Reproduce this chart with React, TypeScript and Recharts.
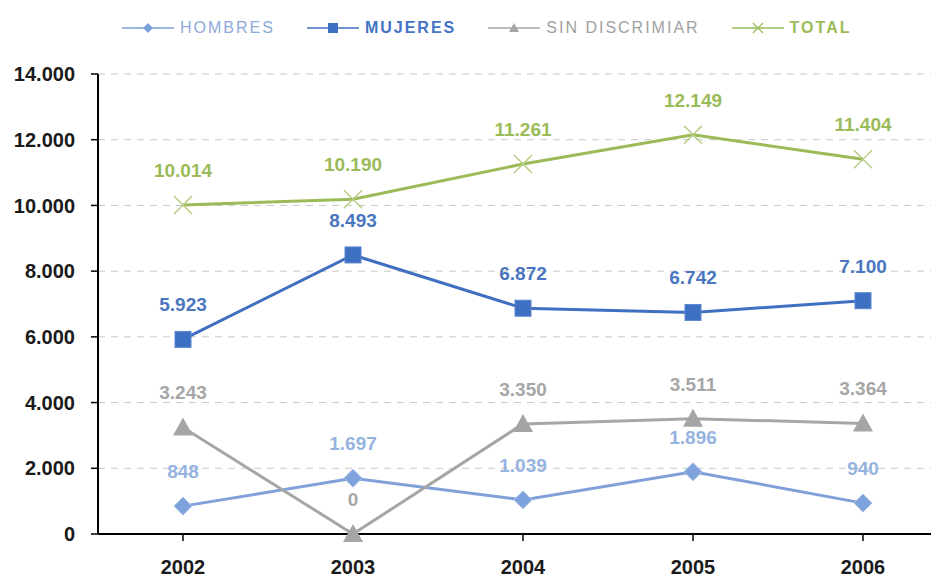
import React from 'react';
import {
    LineChart,
    Line,
    XAxis,
    YAxis,
    CartesianGrid,
    Legend,
} from 'recharts';

// Datos
const years = ['2002', '2003', '2004', '2005', '2006'];
const hombres = [848, 1697, 1039, 1896, 940];
const mujeres = [5923, 8493, 6872, 6742, 7100];
const sinDiscriminar = [3243, 0, 3350, 3511, 3364];
const total = [10014, 10190, 11261, 12149, 11404];
const yTicks = [0, 2000, 4000, 6000, 8000, 10000, 12000, 14000];

const data = years.map((year, i) => ({
    year,
    hombres: hombres[i],
    mujeres: mujeres[i],
    sin: sinDiscriminar[i],
    total: total[i],
}));

const FONT = '"Liberation Sans", Arial, sans-serif';

const C_HOMBRES = '#7fa0d8';
const C_MUJERES = '#3f6fc0';
const C_SIN = '#a6a6a6';
const C_TOTAL = '#9bbb59';

// 10014 -> "10.014"
const fmt = (v: number) => String(v).replace(/\B(?=(\d{3})+(?!\d))/g, '.');

// Marcadores
const Diamond = (props: any) => {
    const { cx, cy } = props;
    if (cx == null || cy == null) return null;
    const r = 9;
    return (
        <polygon
            points={`${cx},${cy - r} ${cx + r},${cy} ${cx},${cy + r} ${cx - r},${cy}`}
            fill="#7ea2dc"
            stroke="#a9c0e8"
            strokeWidth={1}
        />
    );
};

const Square = (props: any) => {
    const { cx, cy } = props;
    if (cx == null || cy == null) return null;
    const s = 8;
    return <rect x={cx - s} y={cy - s} width={s * 2} height={s * 2} fill="#3d6fc2" stroke="#5a86cf" strokeWidth={1} />;
};

const Triangle = (props: any) => {
    const { cx, cy } = props;
    if (cx == null || cy == null) return null;
    return (
        <polygon
            points={`${cx},${cy - 10} ${cx + 10},${cy + 8} ${cx - 10},${cy + 8}`}
            fill="#a5a5a5"
        />
    );
};

const Cross = (props: any) => {
    const { cx, cy } = props;
    if (cx == null || cy == null) return null;
    const r = 9;
    return (
        <g stroke="#b5cc80" strokeWidth={1.5}>
            <line x1={cx - r} y1={cy - r} x2={cx + r} y2={cy + r} />
            <line x1={cx - r} y1={cy + r} x2={cx + r} y2={cy - r} />
        </g>
    );
};

// Etiqueta encima del punto
const makeLabel = (color: string) => (props: any) => {
    const { x, y, value } = props;
    return (
        <text
            x={x}
            y={y - 33}
            textAnchor="middle"
            dominantBaseline="middle"
            fill={color}
            fontFamily={FONT}
            fontWeight="bold"
            fontSize={19}
        >
            {fmt(value)}
        </text>
    );
};

const legendItems = [
    { name: 'HOMBRES', color: C_HOMBRES, text: '#8eaadb', bold: false, icon: 'diamond' },
    { name: 'MUJERES', color: C_MUJERES, text: '#4472c4', bold: true, icon: 'square' },
    { name: 'SIN DISCRIMIAR', color: C_SIN, text: '#a0a0a0', bold: false, icon: 'triangle' },
    { name: 'TOTAL', color: C_TOTAL, text: '#9bbb59', bold: true, icon: 'cross' },
];

const LegendIcon = ({ icon, color }: { icon: string; color: string }) => (
    <svg width={52} height={14} style={{ marginRight: 6 }}>
        <line x1={0} y1={7} x2={52} y2={7} stroke={color} strokeWidth={1.5} />
        {icon === 'diamond' && <polygon points="26,2 31,7 26,12 21,7" fill="#7ea2dc" />}
        {icon === 'square' && <rect x={21} y={2} width={10} height={10} fill="#3d6fc2" />}
        {icon === 'triangle' && <polygon points="26,2 31,11 21,11" fill="#a5a5a5" />}
        {icon === 'cross' && (
            <g stroke={color} strokeWidth={1.2}>
                <line x1={21} y1={2} x2={31} y2={12} />
                <line x1={21} y1={12} x2={31} y2={2} />
            </g>
        )}
    </svg>
);

const renderLegend = () => (
    <div style={{ display: 'flex', height: 40, alignItems: 'center', paddingLeft: 114 }}>
        {legendItems.map((it) => (
            <div key={it.name} style={{ display: 'flex', alignItems: 'center', marginRight: 32 }}>
                <LegendIcon icon={it.icon} color={it.color} />
                <span
                    style={{
                        fontFamily: FONT,
                        fontSize: 16,
                        letterSpacing: 2,
                        color: it.text,
                        fontWeight: it.bold ? 'bold' : 'normal',
                    }}
                >
                    {it.name}
                </span>
            </div>
        ))}
    </div>
);

export default function App() {
    return (
        <div style={{ width: 931, height: 571, overflow: 'hidden', background: '#fff' }}>
            <LineChart
                width={960}
                height={571}
                data={data}
                margin={{ top: 26, right: 20, left: 0, bottom: 5 }}
            >
                <Legend verticalAlign="top" align="left" content={renderLegend} wrapperStyle={{ top: 0, left: 0 }} />
                <CartesianGrid vertical={false} stroke="#c8c8c8" strokeDasharray="7 6" />
                <XAxis
                    dataKey="year"
                    height={40}
                    padding={{ left: 85, right: 85 }}
                    axisLine={{ stroke: '#000', strokeWidth: 2 }}
                    tickLine={{ stroke: '#000', strokeWidth: 1.5 }}
                    tickSize={7}
                    tickMargin={19}
                    tick={{ fill: '#1a1a1a', fontFamily: FONT, fontWeight: 'bold', fontSize: 20 }}
                />
                <YAxis
                    domain={[0, 14000]}
                    ticks={yTicks}
                    width={90}
                    interval={0}
                    tickFormatter={fmt}
                    axisLine={{ stroke: '#000', strokeWidth: 2 }}
                    tickLine={{ stroke: '#000', strokeWidth: 1.5 }}
                    tickSize={7}
                    tickMargin={16}
                    tick={{ fill: '#1a1a1a', fontFamily: FONT, fontWeight: 'bold', fontSize: 20 }}
                />
                <Line
                    dataKey="hombres"
                    name="HOMBRES"
                    stroke={C_HOMBRES}
                    strokeWidth={3}
                    dot={<Diamond />}
                    label={makeLabel('#95b3e0')}
                    isAnimationActive={false}
                />
                <Line
                    dataKey="sin"
                    name="SIN DISCRIMIAR"
                    stroke={C_SIN}
                    strokeWidth={3}
                    dot={<Triangle />}
                    label={makeLabel('#a6a6a6')}
                    isAnimationActive={false}
                />
                <Line
                    dataKey="mujeres"
                    name="MUJERES"
                    stroke={C_MUJERES}
                    strokeWidth={3}
                    dot={<Square />}
                    label={makeLabel('#4a76bf')}
                    isAnimationActive={false}
                />
                <Line
                    dataKey="total"
                    name="TOTAL"
                    stroke={C_TOTAL}
                    strokeWidth={3}
                    dot={<Cross />}
                    label={makeLabel('#9bbb59')}
                    isAnimationActive={false}
                />
            </LineChart>
        </div>
    );
}
